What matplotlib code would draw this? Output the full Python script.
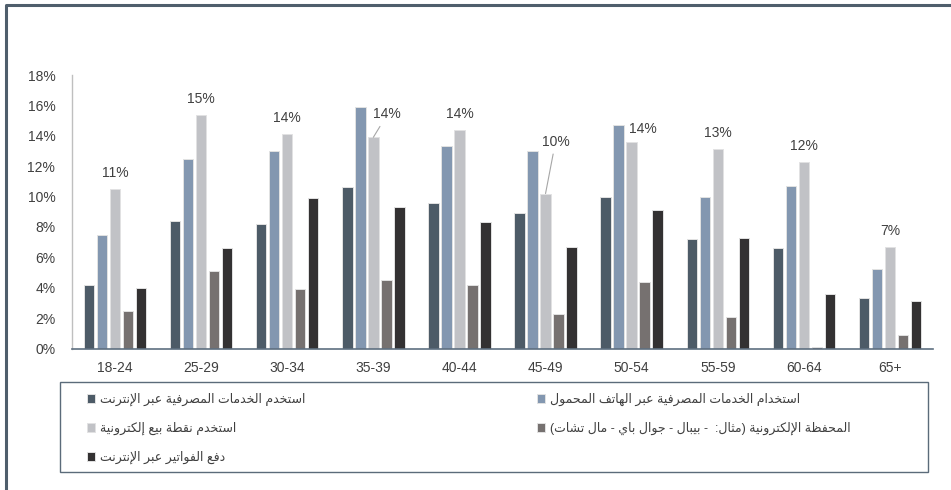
import numpy as np
import matplotlib
matplotlib.use("Agg")
import matplotlib.pyplot as plt
from matplotlib.lines import Line2D
from matplotlib.patches import Rectangle

# ---- data -------------------------------------------------------------
age_groups = ["18-24", "25-29", "30-34", "35-39", "40-44",
              "45-49", "50-54", "55-59", "60-64", "65+"]

online_banking = [4.2, 8.4, 8.2, 10.6, 9.6, 8.9, 10.0, 7.2, 6.6, 3.3]
mobile_banking = [7.5, 12.5, 13.0, 15.9, 13.3, 13.0, 14.7, 10.0, 10.7, 5.2]
pos_payment = [10.5, 15.4, 14.1, 13.9, 14.4, 10.2, 13.6, 13.1, 12.3, 6.7]
e_wallet = [2.5, 5.1, 3.9, 4.5, 4.2, 2.3, 4.4, 2.1, 0.1, 0.9]
bill_payment = [4.0, 6.6, 9.9, 9.3, 8.3, 6.7, 9.1, 7.3, 3.6, 3.1]

series_names = [
    "استخدم الخدمات المصرفية عبر الإنترنت",
    "استخدام الخدمات المصرفية عبر الهاتف المحمول",
    "استخدم نقطة بيع إلكترونية",
    "المحفظة الإلكترونية (مثال:  - بيبال - جوال باي - مال تشات)",
    "دفع الفواتير عبر الإنترنت",
]

y_ticks = [0, 2, 4, 6, 8, 10, 12, 14, 16, 18]

# ---- Arabic shaping (matplotlib lays glyphs out left to right) ----------
ARABIC_FORMS = {
    "\u0621": (0xFE80, 1),
    "\u0622": (0xFE81, 2), "\u0623": (0xFE83, 2), "\u0624": (0xFE85, 2),
    "\u0625": (0xFE87, 2), "\u0626": (0xFE89, 4), "\u0627": (0xFE8D, 2),
    "\u0628": (0xFE8F, 4), "\u0629": (0xFE93, 2), "\u062A": (0xFE95, 4),
    "\u062B": (0xFE99, 4), "\u062C": (0xFE9D, 4), "\u062D": (0xFEA1, 4),
    "\u062E": (0xFEA5, 4), "\u062F": (0xFEA9, 2), "\u0630": (0xFEAB, 2),
    "\u0631": (0xFEAD, 2), "\u0632": (0xFEAF, 2), "\u0633": (0xFEB1, 4),
    "\u0634": (0xFEB5, 4), "\u0635": (0xFEB9, 4), "\u0636": (0xFEBD, 4),
    "\u0637": (0xFEC1, 4), "\u0638": (0xFEC5, 4), "\u0639": (0xFEC9, 4),
    "\u063A": (0xFECD, 4), "\u0641": (0xFED1, 4), "\u0642": (0xFED5, 4),
    "\u0643": (0xFED9, 4), "\u0644": (0xFEDD, 4), "\u0645": (0xFEE1, 4),
    "\u0646": (0xFEE5, 4), "\u0647": (0xFEE9, 4), "\u0648": (0xFEED, 2),
    "\u0649": (0xFEEF, 2), "\u064A": (0xFEF1, 4),
}
LAM_ALEF = {"\u0622": 0xFEF5, "\u0623": 0xFEF7, "\u0625": 0xFEF9, "\u0627": 0xFEFB}


def shape_arabic(text):
    units = []
    i = 0
    while i < len(text):
        c = text[i]
        if c == "\u0644" and i + 1 < len(text) and text[i + 1] in LAM_ALEF:
            units.append((LAM_ALEF[text[i + 1]], 2))
            i += 2
        elif c in ARABIC_FORMS:
            units.append(ARABIC_FORMS[c])
            i += 1
        else:
            units.append(c)
            i += 1
    out = []
    for k, u in enumerate(units):
        if isinstance(u, str):
            out.append(u)
            continue
        base, n = u
        prev = units[k - 1] if k > 0 else None
        nxt = units[k + 1] if k + 1 < len(units) else None
        join_prev = n > 1 and isinstance(prev, tuple) and prev[1] == 4
        join_next = n == 4 and isinstance(nxt, tuple)
        if join_prev and join_next:
            off = 3
        elif join_prev:
            off = 1
        elif join_next:
            off = 2
        else:
            off = 0
        out.append(chr(base + off))
    visual = "".join(reversed(out))
    return visual.translate(str.maketrans("()", ")("))


# ---- style ------------------------------------------------------------
plt.rcParams["font.family"] = ["Liberation Sans", "DejaVu Sans"]
TEXT = "#404040"
colors = ["#4d5b67", "#8397b0", "#c1c2c6", "#767170", "#333132"]

W, H = 951, 490
fig = plt.figure(figsize=(W / 100, H / 100), dpi=100)
ax = fig.add_axes([72 / W, 1 - 348.5 / H, 861 / W, (348.5 - 75) / H])

series = [online_banking, mobile_banking, pos_payment, e_wallet, bill_payment]
x = np.arange(len(age_groups))
step, width = 0.151, 0.12
containers = []
for k, vals in enumerate(series):
    bc = ax.bar(x + (k - 2) * step, vals, width, color=colors[k],
                edgecolor="#e2e2e2", linewidth=0.7, zorder=2)
    containers.append(bc)

# value labels above the point-of-sale bars
label_offsets = {3: (14, 23, True), 5: (10, 52, True), 6: (11, 13, False)}
for i, v in enumerate(pos_payment):
    dx, dy, leader = label_offsets.get(i, (0, 16, False))
    kw = {}
    if leader:
        kw["arrowprops"] = dict(arrowstyle="-", color="#a6a6a6", lw=0.8,
                                shrinkA=2, shrinkB=0)
    ax.annotate(f"{int(v + 0.5)}%", xy=(x[i], v), xytext=(dx, dy),
                textcoords="offset pixels", ha="center", va="center",
                fontsize=10, color=TEXT, **kw)

ax.set_xlim(-0.5, len(age_groups) - 0.5)
ax.set_ylim(0, 18)
ax.set_yticks(y_ticks)
ax.set_yticklabels([f"{t}%" for t in y_ticks])
ax.set_xticks(x)
ax.set_xticklabels(age_groups)
ax.tick_params(axis="both", length=0, labelsize=10, labelcolor=TEXT)
ax.tick_params(axis="x", pad=9)
ax.tick_params(axis="y", pad=12)
for side in ("top", "right"):
    ax.spines[side].set_visible(False)
ax.spines["left"].set_color("#bfbfbf")
ax.spines["left"].set_linewidth(1.0)
ax.spines["bottom"].set_color("#5e6f80")
ax.spines["bottom"].set_linewidth(1.2)

# legend: two columns inside a rectangular frame
labels = [shape_arabic(s) for s in series_names]
leg_kw = dict(loc="upper left", frameon=False, fontsize=9, labelcolor=TEXT,
              handlelength=0.65, handleheight=0.65, handletextpad=0.4,
              labelspacing=1.25, borderpad=0, borderaxespad=0)
leg1 = fig.legend([containers[0], containers[2], containers[4]],
                  [labels[0], labels[2], labels[4]],
                  bbox_to_anchor=(87 / W, 1 - 393 / H), **leg_kw)
leg2 = fig.legend([containers[1], containers[3]],
                  [labels[1], labels[3]],
                  bbox_to_anchor=(537 / W, 1 - 393 / H), **leg_kw)

fig.add_artist(Rectangle((60 / W, 1 - 471.7 / H), 868 / W, 90 / H,
                         transform=fig.transFigure, fill=False,
                         edgecolor="#5b6b7a", linewidth=1.0))

# outer frame (top and left edges)
fig.add_artist(Line2D([5.5 / W, 5.5 / W, 1.0], [0.0, 1 - 5.5 / H, 1 - 5.5 / H],
                      transform=fig.transFigure, color="#4f5e6c", linewidth=2.2))

fig.savefig("out.png", dpi=100, facecolor="white")
